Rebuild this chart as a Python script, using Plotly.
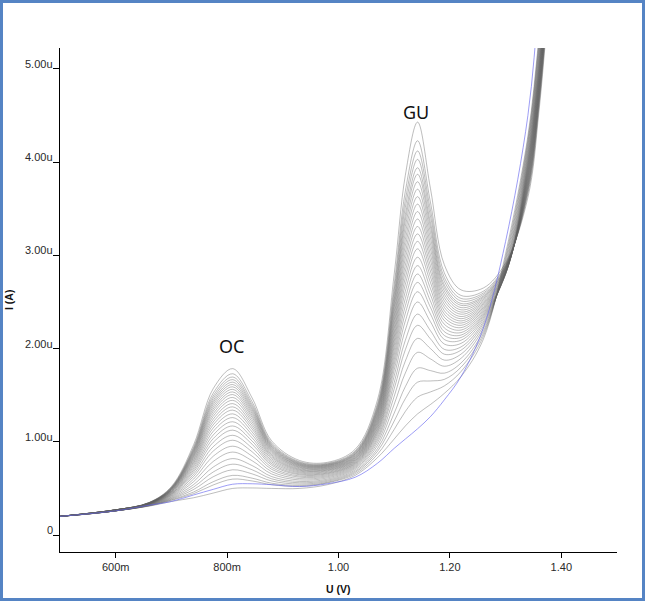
import plotly.graph_objects as go

potential_V = [0.50, 0.60, 0.66, 0.70, 0.74, 0.775, 0.81, 0.845, 0.88, 0.93, 0.98,
               1.03, 1.07, 1.10, 1.12, 1.142, 1.165, 1.19, 1.22, 1.26, 1.30, 1.34,
               1.36, 1.38]

# Blank (blue) scan, current in microampere
blank_uA = [0.20, 0.26, 0.32, 0.36, 0.43, 0.49, 0.545, 0.55, 0.54, 0.52, 0.55,
            0.62, 0.77, 0.93, 1.03, 1.14, 1.27, 1.45, 1.70, 2.22, 3.15, 4.50,
            5.75, 7.20]

# Current (uA) of the 30 grey scans (lowest -> highest) at each potential
i_0500 = [0.20, 0.20, 0.20, 0.20, 0.20, 0.20, 0.20, 0.20, 0.20, 0.20,
          0.20, 0.20, 0.20, 0.20, 0.20, 0.20, 0.20, 0.20, 0.20, 0.20,
          0.20, 0.20, 0.20, 0.20, 0.20, 0.20, 0.20, 0.20, 0.20, 0.20]
i_0600 = [0.26, 0.26, 0.26, 0.26, 0.26, 0.26, 0.26, 0.26, 0.26, 0.26,
          0.26, 0.26, 0.26, 0.26, 0.26, 0.27, 0.27, 0.27, 0.27, 0.27,
          0.27, 0.27, 0.27, 0.27, 0.27, 0.27, 0.27, 0.27, 0.27, 0.27]
i_0660 = [0.310, 0.313, 0.314, 0.316, 0.318, 0.320, 0.322, 0.324, 0.326, 0.328,
          0.329, 0.331, 0.332, 0.334, 0.335, 0.336, 0.337, 0.338, 0.339, 0.340,
          0.341, 0.342, 0.343, 0.344, 0.345, 0.345, 0.346, 0.347, 0.348, 0.350]
i_0700 = [0.360, 0.372, 0.377, 0.385, 0.392, 0.400, 0.408, 0.416, 0.424, 0.431,
          0.438, 0.443, 0.449, 0.455, 0.460, 0.465, 0.469, 0.473, 0.478, 0.482,
          0.485, 0.489, 0.492, 0.496, 0.499, 0.502, 0.505, 0.509, 0.513, 0.520]
i_0740 = [0.400, 0.444, 0.462, 0.489, 0.515, 0.542, 0.573, 0.601, 0.629, 0.653,
          0.677, 0.697, 0.717, 0.737, 0.755, 0.773, 0.788, 0.804, 0.819, 0.833,
          0.847, 0.859, 0.871, 0.883, 0.895, 0.906, 0.918, 0.930, 0.945, 0.970]
i_0775 = [0.450, 0.537, 0.572, 0.625, 0.676, 0.729, 0.789, 0.845, 0.900, 0.947,
          0.994, 1.034, 1.073, 1.112, 1.148, 1.182, 1.213, 1.243, 1.273, 1.301,
          1.328, 1.352, 1.376, 1.400, 1.422, 1.443, 1.467, 1.492, 1.522, 1.570]
i_0810 = [0.500, 0.600, 0.640, 0.700, 0.760, 0.820, 0.890, 0.953, 1.017, 1.070,
          1.125, 1.170, 1.215, 1.260, 1.300, 1.340, 1.375, 1.410, 1.445, 1.476,
          1.507, 1.535, 1.563, 1.590, 1.615, 1.640, 1.667, 1.695, 1.730, 1.785]
i_0845 = [0.505, 0.580, 0.610, 0.656, 0.700, 0.745, 0.797, 0.846, 0.893, 0.933,
          0.974, 1.008, 1.042, 1.075, 1.106, 1.136, 1.162, 1.188, 1.214, 1.238,
          1.262, 1.282, 1.303, 1.323, 1.343, 1.361, 1.381, 1.402, 1.429, 1.470]
i_0880 = [0.500, 0.540, 0.556, 0.580, 0.603, 0.627, 0.655, 0.680, 0.705, 0.726,
          0.748, 0.766, 0.784, 0.801, 0.818, 0.834, 0.847, 0.861, 0.875, 0.888,
          0.900, 0.911, 0.922, 0.932, 0.943, 0.952, 0.963, 0.974, 0.988, 1.010]
i_0930 = [0.500, 0.523, 0.533, 0.547, 0.561, 0.575, 0.591, 0.606, 0.621, 0.633,
          0.646, 0.656, 0.667, 0.677, 0.687, 0.696, 0.704, 0.712, 0.721, 0.728,
          0.735, 0.742, 0.748, 0.754, 0.760, 0.766, 0.772, 0.779, 0.787, 0.800]
i_0980 = [0.540, 0.559, 0.566, 0.577, 0.588, 0.600, 0.613, 0.625, 0.636, 0.647,
          0.657, 0.665, 0.673, 0.682, 0.690, 0.697, 0.703, 0.710, 0.716, 0.722,
          0.728, 0.733, 0.738, 0.744, 0.748, 0.753, 0.758, 0.763, 0.770, 0.780]
i_1030 = [0.640, 0.656, 0.671, 0.684, 0.699, 0.713, 0.725, 0.736, 0.747, 0.757,
          0.766, 0.774, 0.782, 0.790, 0.798, 0.805, 0.813, 0.820, 0.827, 0.834,
          0.841, 0.848, 0.856, 0.863, 0.870, 0.876, 0.884, 0.892, 0.902, 0.920]
i_1070 = [0.830, 0.866, 0.898, 0.927, 0.961, 0.991, 1.018, 1.042, 1.067, 1.090,
          1.109, 1.127, 1.145, 1.163, 1.180, 1.196, 1.213, 1.228, 1.244, 1.260,
          1.276, 1.291, 1.307, 1.324, 1.339, 1.353, 1.371, 1.389, 1.410, 1.450]
i_1100 = [1.030, 1.133, 1.223, 1.308, 1.403, 1.488, 1.568, 1.635, 1.708, 1.772,
          1.827, 1.878, 1.929, 1.980, 2.030, 2.076, 2.122, 2.166, 2.212, 2.257,
          2.303, 2.347, 2.393, 2.439, 2.483, 2.522, 2.573, 2.625, 2.687, 2.800]
i_1120 = [1.170, 1.326, 1.463, 1.592, 1.738, 1.867, 1.988, 2.090, 2.200, 2.297,
          2.381, 2.459, 2.537, 2.615, 2.690, 2.760, 2.830, 2.897, 2.967, 3.034,
          3.104, 3.171, 3.241, 3.311, 3.378, 3.438, 3.516, 3.594, 3.688, 3.860]
i_1142 = [1.30, 1.48, 1.64, 1.79, 1.96, 2.11, 2.25, 2.37, 2.50, 2.61,
          2.71, 2.80, 2.89, 2.98, 3.07, 3.15, 3.23, 3.31, 3.39, 3.47,
          3.55, 3.63, 3.71, 3.79, 3.87, 3.94, 4.03, 4.12, 4.23, 4.43]
i_1165 = [1.400, 1.535, 1.653, 1.764, 1.890, 2.001, 2.105, 2.193, 2.289, 2.372,
          2.444, 2.511, 2.579, 2.646, 2.711, 2.771, 2.831, 2.889, 2.950, 3.008,
          3.068, 3.126, 3.186, 3.247, 3.305, 3.356, 3.423, 3.490, 3.572, 3.720]
i_1190 = [1.520, 1.600, 1.670, 1.737, 1.811, 1.877, 1.940, 1.992, 2.049, 2.098,
          2.141, 2.181, 2.221, 2.261, 2.300, 2.336, 2.371, 2.406, 2.442, 2.476,
          2.512, 2.547, 2.583, 2.618, 2.653, 2.683, 2.723, 2.763, 2.812, 2.900]
i_1220 = [1.700, 1.754, 1.801, 1.846, 1.896, 1.941, 1.983, 2.018, 2.056, 2.090,
          2.119, 2.145, 2.172, 2.199, 2.225, 2.250, 2.274, 2.297, 2.321, 2.344,
          2.369, 2.392, 2.416, 2.440, 2.464, 2.484, 2.511, 2.538, 2.570, 2.630]
i_1260 = [2.100, 2.132, 2.160, 2.186, 2.216, 2.242, 2.267, 2.288, 2.311, 2.330,
          2.348, 2.363, 2.379, 2.395, 2.411, 2.425, 2.439, 2.453, 2.467, 2.481,
          2.495, 2.509, 2.524, 2.538, 2.552, 2.564, 2.580, 2.596, 2.615, 2.650]
i_1300 = [3.020, 2.980, 2.950, 2.920, 2.890, 2.870, 2.850, 2.830, 2.820, 2.810,
          2.800, 2.800, 2.800, 2.800, 2.810, 2.810, 2.820, 2.820, 2.830, 2.830,
          2.840, 2.850, 2.850, 2.860, 2.870, 2.870, 2.880, 2.890, 2.900, 2.920]
i_1340 = [4.280, 4.242, 4.208, 4.176, 4.141, 4.109, 4.079, 4.054, 4.027, 4.003,
          3.983, 3.964, 3.945, 3.926, 3.907, 3.890, 3.873, 3.856, 3.839, 3.823,
          3.805, 3.789, 3.772, 3.755, 3.738, 3.724, 3.704, 3.685, 3.662, 3.620]
i_1360 = [5.350, 5.304, 5.263, 5.224, 5.181, 5.143, 5.107, 5.076, 5.044, 5.015,
          4.990, 4.967, 4.944, 4.920, 4.898, 4.877, 4.856, 4.836, 4.816, 4.796,
          4.775, 4.755, 4.734, 4.713, 4.693, 4.676, 4.652, 4.629, 4.601, 4.550]
i_1380 = [6.700, 6.657, 6.618, 6.582, 6.542, 6.506, 6.472, 6.444, 6.413, 6.386,
          6.363, 6.341, 6.319, 6.297, 6.276, 6.257, 6.237, 6.219, 6.199, 6.180,
          6.161, 6.142, 6.123, 6.103, 6.084, 6.068, 6.046, 6.024, 5.998, 5.950]

columns = [i_0500, i_0600, i_0660, i_0700, i_0740, i_0775, i_0810, i_0845, i_0880,
           i_0930, i_0980, i_1030, i_1070, i_1100, i_1120, i_1142, i_1165, i_1190,
           i_1220, i_1260, i_1300, i_1340, i_1360, i_1380]

x_tick_vals = [0.6, 0.8, 1.0, 1.2, 1.4]
x_tick_labels = ["600m", "800m", "1.00", "1.20", "1.40"]
y_tick_vals = [0, 1, 2, 3, 4, 5]
y_tick_labels = ["0", "1.00u", "2.00u", "3.00u", "4.00u", "5.00u"]

peak_labels = ["OC", "GU"]
peak_label_x = [0.808, 1.139]
peak_label_y = [2.03, 4.54]

fig = go.Figure()

n_scans = len(i_0500)
for k in range(n_scans):
    fig.add_trace(go.Scatter(
        x=potential_V, y=[col[k] for col in columns], mode="lines",
        line=dict(color="rgba(95,95,95,0.55)", width=0.75, shape="spline", smoothing=1.0),
        hoverinfo="skip", showlegend=False))

fig.add_trace(go.Scatter(
    x=potential_V, y=blank_uA, mode="lines",
    line=dict(color="rgba(100,100,240,0.8)", width=0.8, shape="spline", smoothing=1.0),
    hoverinfo="skip", showlegend=False))

axis_font = dict(family="Liberation Sans, Arial, sans-serif", size=11, color="#2a2a2a")

annotations = []
for v, t in zip(y_tick_vals, y_tick_labels):
    annotations.append(dict(xref="paper", x=0, y=v, yref="y", text=t, showarrow=False,
                            xanchor="right", yanchor="middle", xshift=-5, yshift=5,
                            font=axis_font))
for t, px, py in zip(peak_labels, peak_label_x, peak_label_y):
    annotations.append(dict(x=px, y=py, text=t, showarrow=False, xanchor="center",
                            yanchor="middle",
                            font=dict(family="Noto Sans, Open Sans, sans-serif", size=18,
                                      color="#111")))
annotations.append(dict(xref="paper", yref="paper", x=0.5, y=-0.073, text="<b>U (V)</b>",
                        showarrow=False, xanchor="center", yanchor="middle",
                        font=dict(family="Liberation Sans, Arial, sans-serif", size=10.5,
                                  color="#111")))
annotations.append(dict(xref="paper", yref="paper", x=-0.0916, y=0.5, text="<b>I (A)</b>",
                        showarrow=False, xanchor="center", yanchor="middle", textangle=-90,
                        font=dict(family="Liberation Sans, Arial, sans-serif", size=10.5,
                                  color="#111")))

fig.update_layout(
    width=645, height=601,
    margin=dict(l=60, r=28, t=48, b=49),
    paper_bgcolor="white", plot_bgcolor="white",
    showlegend=False,
    annotations=annotations,
    shapes=[dict(type="rect", xref="paper", yref="paper",
                 x0=(1.5 - 60) / 557, x1=(643.5 - 60) / 557,
                 y0=(552 - 599.5) / 504, y1=(552 - 1.5) / 504,
                 line=dict(color="#5584c4", width=3), fillcolor="rgba(0,0,0,0)",
                 layer="above")],
    xaxis=dict(range=[0.5, 1.5], showgrid=False, zeroline=False,
               showline=True, linecolor="black", linewidth=1,
               ticks="outside", ticklen=5, tickcolor="black", tickwidth=1,
               tickvals=x_tick_vals, ticktext=x_tick_labels, tickfont=axis_font),
    yaxis=dict(range=[-0.182, 5.225], showgrid=False, zeroline=False,
               showline=True, linecolor="black", linewidth=1,
               ticks="outside", ticklen=6, tickcolor="black", tickwidth=1,
               tickvals=y_tick_vals, showticklabels=False),
)

fig.write_html("out.html")
